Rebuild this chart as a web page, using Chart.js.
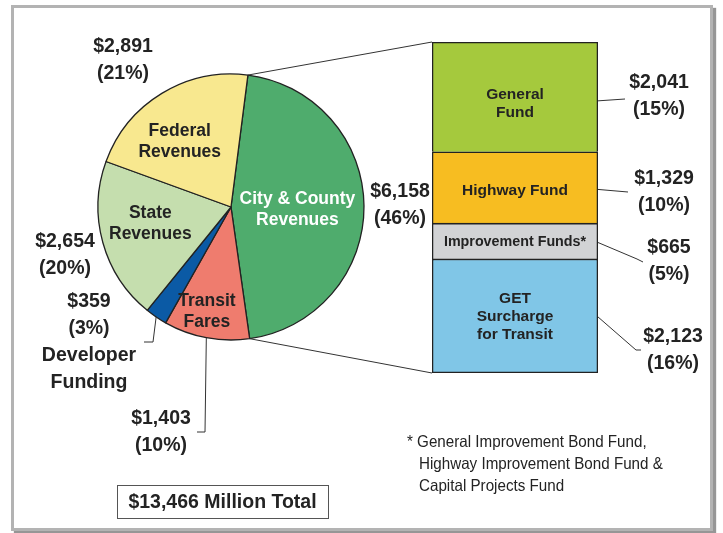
<!DOCTYPE html>
<html><head><meta charset="utf-8">
<script src="https://cdn.jsdelivr.net/npm/chart.js@4/dist/chart.umd.min.js"></script>
<style>
html,body{margin:0;padding:0;background:#fff;width:723px;height:533px;overflow:hidden}
#frame{position:absolute;left:11px;top:5px;width:696px;height:520px;border:3px solid #b3b3b3;box-shadow:3px 3px 1px #969696;}
canvas{position:absolute;left:0;top:0}
</style></head><body>
<div id="frame"></div>
<canvas id="pie" width="723" height="533"></canvas>
<canvas id="bar" width="723" height="533"></canvas>
<script>
// ---- data ----
const pieCategories = ['City & County Revenues', 'Transit Fares', 'Developer Funding', 'State Revenues', 'Federal Revenues'];
const pieValues = [6158, 1403, 359, 2654, 2891];
const piePercents = [46, 10, 3, 20, 21];
const barCategories = ['General Fund', 'Highway Fund', 'Improvement Funds*', 'GET Surcharge for Transit'];
const barValues = [2041, 1329, 665, 2123];
const barPercents = [15, 10, 5, 16];
const totalLabel = '$13,466 Million Total';
const footnoteLines = ['* General Improvement Bond Fund,', 'Highway Improvement Bond Fund &', 'Capital Projects Fund'];

// ---- styles ----
const pieColors = ['#4fac6d', '#ef7c6e', '#0b5aa5', '#c5deae', '#f8e88f'];
const barColors = ['#a5c93d', '#f7bd21', '#d2d3d5', '#80c6e7'];
const INK = '#232323';
const FONT = '"Liberation Sans", Arial, sans-serif';
const fmt = v => '$' + v.toLocaleString('en-US');

// inner pie label layout (line split, radius fraction, angle tweak in deg)
const pieInner = [
  {lines: ['City & County', 'Revenues'], f: 0.5, da: 3, color: '#ffffff'},
  {lines: ['Transit', 'Fares'], f: 0.81, da: 2.2, color: INK},
  null,
  {lines: ['State', 'Revenues'], f: 0.62, da: 3.5, color: INK},
  {lines: ['Federal', 'Revenues'], f: 0.627, da: -6.6, color: INK}
];
// outer pie label anchors (text centers)
const pieOuter = [
  {x: 400, y: 192, extra: []},
  {x: 161, y: 419, extra: []},
  {x: 89, y: 302, extra: ['Developer', 'Funding']},
  {x: 65, y: 242, extra: []},
  {x: 123, y: 47, extra: []}
];
const barInner = [
  {lines: ['General', 'Fund'], dy: 7, size: 15.5, lh: 18},
  {lines: ['Highway Fund'], dy: 3, size: 15.5, lh: 18},
  {lines: ['Improvement Funds*'], dy: 1.5, size: 14.3, lh: 18},
  {lines: ['GET', 'Surcharge', 'for Transit'], dy: 1, size: 15.5, lh: 18}
];
const barOuter = [
  {x: 659, y: 83, ly: 4, path: [[625, 99]]},
  {x: 664, y: 179, ly: 2, path: [[628, 192]]},
  {x: 669, y: 248, ly: 1.5, path: [[637, 259], [643, 262]]},
  {x: 673, y: 337, ly: 1, path: [[636, 350], [641, 350]]}
];

function txt(ctx, s, x, y, size, color, bold = true, align = 'center') {
  ctx.save();
  ctx.font = (bold ? 'bold ' : '') + size + 'px ' + FONT;
  ctx.fillStyle = color;
  ctx.textAlign = align;
  ctx.textBaseline = 'middle';
  ctx.fillText(s, x, y);
  ctx.restore();
}
function polyline(ctx, pts, w = 1, color = '#333') {
  ctx.save();
  ctx.strokeStyle = color; ctx.lineWidth = w;
  ctx.beginPath();
  pts.forEach((p, i) => i ? ctx.lineTo(p[0], p[1]) : ctx.moveTo(p[0], p[1]));
  ctx.stroke();
  ctx.restore();
}

const pieLabelsPlugin = {
  id: 'pieLabels',
  afterDraw(chart) {
    const ctx = chart.ctx;
    const arcs = chart.getDatasetMeta(0).data;
    arcs.forEach((a, i) => {
      const mid = (a.startAngle + a.endAngle) / 2;
      const cfg = pieInner[i];
      if (cfg) {
        const ang = mid + cfg.da * Math.PI / 180;
        const r = a.outerRadius * cfg.f;
        const cx = a.x + r * Math.cos(ang), cy = a.y + r * Math.sin(ang);
        const n = cfg.lines.length;
        cfg.lines.forEach((l, k) => txt(ctx, l, cx, cy + (k - (n - 1) / 2) * 21, 17.5, cfg.color));
      }
      const o = pieOuter[i];
      const lines = [fmt(pieValues[i]), '(' + piePercents[i] + '%)'].concat(o.extra);
      lines.forEach((l, k) => txt(ctx, l, o.x, o.y + k * 27, 19.5, INK));
    });
    // leader lines for small slices
    const dev = arcs[2], tr = arcs[1];
    const edge = (a) => {
      const m = (a.startAngle + a.endAngle) / 2;
      return [a.x + a.outerRadius * Math.cos(m), a.y + a.outerRadius * Math.sin(m)];
    };
    polyline(ctx, [edge(dev), [153, 342], [144, 342]]);
    polyline(ctx, [edge(tr), [205, 432], [197, 432]]);
    // total box
    ctx.save();
    ctx.strokeStyle = '#555'; ctx.lineWidth = 1;
    ctx.strokeRect(117.5, 485.5, 211, 33);
    ctx.restore();
    txt(ctx, totalLabel, 222.5, 502.5, 19.5, INK);
    // footnote
    ctx.save();
    ctx.font = '16.5px ' + FONT;
    ctx.fillStyle = INK;
    ctx.textBaseline = 'middle';
    footnoteLines.forEach((l, k) => {
      ctx.save();
      const x = k === 0 ? 407 : 419;
      ctx.translate(x, 442 + k * 22);
      ctx.scale(0.92, 1);
      ctx.fillText(l, 0, 0);
      ctx.restore();
    });
    ctx.restore();
  }
};

const pieChart = new Chart(document.getElementById('pie'), {
  type: 'pie',
  data: {
    labels: pieCategories,
    datasets: [{data: pieValues, backgroundColor: pieColors, borderColor: '#222', borderWidth: 1.3}]
  },
  options: {
    responsive: false, animation: false, events: [],
    rotation: 7.3, radius: 133,
    layout: {padding: {left: 97, right: 358, top: 73, bottom: 192}},
    plugins: {legend: {display: false}, tooltip: {enabled: false}}
  },
  plugins: [pieLabelsPlugin]
});

const barSum = barValues.reduce((s, v) => s + v, 0);

const barLabelsPlugin = {
  id: 'barLabels',
  afterDraw(chart) {
    const ctx = chart.ctx;
    const n = barCategories.length;
    let left = 0, right = 0, top = 0, bottom = 0;
    barCategories.forEach((c, i) => {
      const dsIndex = n - 1 - i;
      const el = chart.getDatasetMeta(dsIndex).data[0];
      const yTop = Math.min(el.y, el.base), yBot = Math.max(el.y, el.base);
      const mid = (yTop + yBot) / 2;
      left = el.x - el.width / 2; right = el.x + el.width / 2;
      if (i === 0) top = yTop;
      if (i === n - 1) bottom = yBot;
      const cfg = barInner[i];
      const m = cfg.lines.length;
      cfg.lines.forEach((l, k) => txt(ctx, l, el.x, mid + cfg.dy + (k - (m - 1) / 2) * cfg.lh, cfg.size, INK));
      const o = barOuter[i];
      polyline(ctx, [[right, mid + o.ly]].concat(o.path));
      txt(ctx, fmt(barValues[i]), o.x, o.y, 19.5, INK);
      txt(ctx, '(' + barPercents[i] + '%)', o.x, o.y + 27, 19.5, INK);
    });
    // connectors from the City & County slice to the bar
    const arc = pieChart.getDatasetMeta(0).data[0];
    const p1 = [arc.x + arc.outerRadius * Math.cos(arc.startAngle), arc.y + arc.outerRadius * Math.sin(arc.startAngle)];
    const p2 = [arc.x + arc.outerRadius * Math.cos(arc.endAngle), arc.y + arc.outerRadius * Math.sin(arc.endAngle)];
    polyline(ctx, [p1, [left, top]]);
    polyline(ctx, [p2, [left, bottom]]);
  }
};

new Chart(document.getElementById('bar'), {
  type: 'bar',
  data: {
    labels: ['City & County Revenues'],
    datasets: barCategories.map((c, i) => ({
      label: c, data: [barValues[i]], backgroundColor: barColors[i],
      borderColor: '#222', borderWidth: 1.6,
      borderSkipped: i === barCategories.length - 1 ? false : 'start',
      barPercentage: 1, categoryPercentage: 1
    })).reverse()
  },
  options: {
    responsive: false, animation: false, events: [],
    layout: {padding: {left: 432, right: 125, top: 42, bottom: 160}},
    scales: {
      x: {display: false, stacked: true},
      y: {display: false, stacked: true, min: 0, max: barSum}
    },
    plugins: {legend: {display: false}, tooltip: {enabled: false}}
  },
  plugins: [barLabelsPlugin]
});
</script>
</body></html>
